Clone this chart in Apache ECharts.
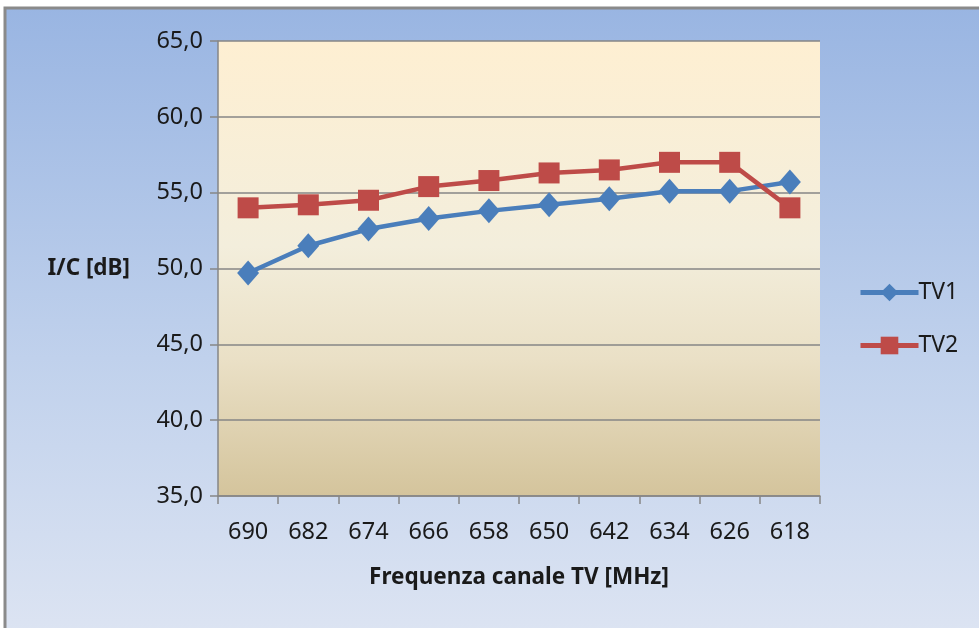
<!DOCTYPE html>
<html>
<head>
<meta charset="utf-8">
<script src="https://cdn.jsdelivr.net/npm/echarts@6/dist/echarts.min.js"></script>
<style>
html,body{margin:0;padding:0;background:#fff;}
#c{width:979px;height:628px;}
</style>
</head>
<body>
<div id="c"></div>
<script>
var categories = ['690','682','674','666','658','650','642','634','626','618'];
var tv1 = [49.7, 51.5, 52.6, 53.3, 53.8, 54.2, 54.6, 55.1, 55.1, 55.7];
var tv2 = [54.0, 54.2, 54.5, 55.4, 55.8, 56.3, 56.5, 57.0, 57.0, 54.0];
var seriesNames = ['TV1', 'TV2'];
var yMin = 35, yMax = 65, yStep = 5;

var FONT = '"Noto Sans", "Open Sans", sans-serif';
var chart = echarts.init(document.getElementById('c'), null, {renderer: 'canvas'});
chart.setOption({
  animation: false,
  backgroundColor: '#ffffff',
  graphic: [{
    type: 'rect', z: -10, silent: true,
    shape: {x: 5, y: 8, width: 1000, height: 700},
    style: {
      fill: new echarts.graphic.LinearGradient(0, 0, 0, 1, [
        {offset: 0, color: '#99B5E2'},
        {offset: 0.5, color: '#C0D1EC'},
        {offset: 1, color: '#E4E9F4'}
      ]),
      stroke: '#8a8a8a', lineWidth: 3
    }
  }],
  grid: {
    left: 218, top: 41, right: 159, bottom: 132,
    show: true, borderWidth: 0,
    backgroundColor: new echarts.graphic.LinearGradient(0, 0, 0, 1, [
      {offset: 0, color: '#FEEFD2'},
      {offset: 0.45, color: '#F3EEDC'},
      {offset: 0.7, color: '#EAE0C6'},
      {offset: 1, color: '#D4C49C'}
    ])
  },
  legend: {
    orient: 'vertical', left: 853, top: 276, itemGap: 30,
    itemWidth: 58, itemHeight: 22,
    lineStyle: {width: 5},
    textStyle: {fontFamily: FONT, fontSize: 23, color: '#1a1a1a', padding: [0, 0, 0, -5]},
    data: seriesNames
  },
  xAxis: {
    type: 'category', data: categories, boundaryGap: true,
    name: 'Frequenza canale TV [MHz]', nameLocation: 'middle', nameGap: 70,
    nameTextStyle: {fontFamily: FONT, fontSize: 22.5, fontWeight: 'bold', color: '#1a1a1a'},
    axisLine: {lineStyle: {color: '#868686', width: 1.5}},
    axisTick: {show: true, length: 8, alignWithLabel: false, lineStyle: {color: '#868686', width: 1.5}},
    axisLabel: {fontFamily: FONT, fontSize: 23.5, color: '#1a1a1a', margin: 24}
  },
  yAxis: {
    type: 'value', min: yMin, max: yMax, interval: yStep,
    name: 'I/C [dB]', nameLocation: 'middle', nameRotate: 0, nameGap: 88,
    nameTextStyle: {fontFamily: FONT, fontSize: 22.5, fontWeight: 'bold', color: '#1a1a1a'},
    axisLine: {show: true, lineStyle: {color: '#868686', width: 1.5}},
    axisTick: {show: true, length: 8, lineStyle: {color: '#868686', width: 1.5}},
    splitLine: {show: true, lineStyle: {color: '#868686', width: 1.5}},
    axisLabel: {fontFamily: FONT, fontSize: 23.5, color: '#1a1a1a', margin: 15,
      formatter: function (v) { return v.toFixed(1).replace('.', ','); }}
  },
  series: [{
    name: seriesNames[0], type: 'line', data: tv1,
    symbol: 'diamond', symbolSize: [22, 25],
    lineStyle: {color: '#4A7EBB', width: 4.5},
    itemStyle: {color: '#4A7EBB'}
  }, {
    name: seriesNames[1], type: 'line', data: tv2,
    symbol: 'rect', symbolSize: 21,
    lineStyle: {color: '#BE4B48', width: 4.5},
    itemStyle: {color: '#BE4B48'}
  }]
});
</script>
</body>
</html>
